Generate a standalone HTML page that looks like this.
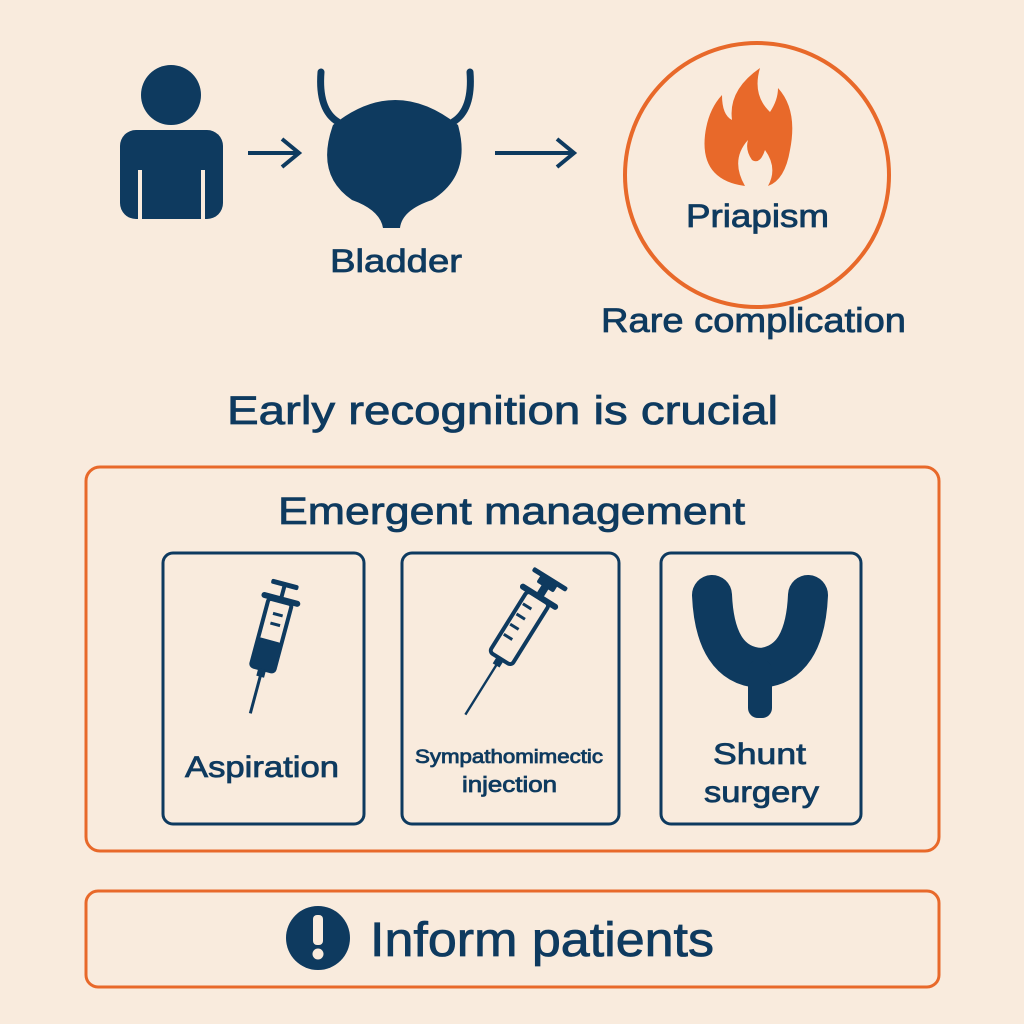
<!DOCTYPE html>
<html><head><meta charset="utf-8"><style>
html,body{margin:0;padding:0;background:#f9ebdd;}
svg{display:block}
text{font-family:"Liberation Sans",sans-serif;fill:#0e3a5f;stroke:#0e3a5f;stroke-width:0.8;}
</style></head><body>
<svg width="1024" height="1024" viewBox="0 0 1024 1024">
<rect width="1024" height="1024" fill="#f9ebdd"/>
<!-- person -->
<circle cx="171" cy="95" r="30" fill="#0e3a5f"/>
<rect x="120" y="130" width="103" height="89" rx="16" fill="#0e3a5f"/>
<rect x="138" y="170" width="4" height="50" fill="#f9ebdd"/>
<rect x="201" y="170" width="4" height="50" fill="#f9ebdd"/>
<!-- arrow1 -->
<g stroke="#0e3a5f" stroke-width="4" fill="none"><line x1="248" y1="153" x2="299" y2="153"/><polyline points="282,139 299,153 282,167"/></g>
<!-- bladder -->
<g stroke="#0e3a5f" stroke-width="7" fill="none" stroke-linecap="round">
<path d="M321 72 Q318 110 338 122"/><path d="M470 72 Q473 110 453 122"/></g>
<path d="M333 125 Q395 75 458 125 Q472 175 432 200 Q402 210 400 228 L383 228 Q380 210 352 200 Q315 175 333 125Z" fill="#0e3a5f"/>
<text x="330" y="272" font-size="32" textLength="132" lengthAdjust="spacingAndGlyphs">Bladder</text>
<!-- arrow2 -->
<g stroke="#0e3a5f" stroke-width="4" fill="none"><line x1="495" y1="153" x2="574" y2="153"/><polyline points="557,139 574,153 557,167"/></g>
<!-- circle -->
<circle cx="757" cy="175" r="132" fill="none" stroke="#e8692a" stroke-width="4"/>
<path d="M745 186 Q700 180 705 135 Q708 110 722 95 Q722 115 732 120 Q728 90 760 68 Q752 95 770 112 Q778 100 778 88 Q798 110 790 150 Q785 180 768 186 Q778 168 765 150 Q760 165 752 160 Q745 150 748 140 Q730 160 745 186Z" fill="#e8692a"/>
<text x="686" y="227" font-size="32" textLength="143" lengthAdjust="spacingAndGlyphs">Priapism</text>
<text x="601" y="332" font-size="34" textLength="305" lengthAdjust="spacingAndGlyphs">Rare complication</text>
<text x="227" y="424" font-size="40" textLength="551" lengthAdjust="spacingAndGlyphs">Early recognition is crucial</text>
<!-- management box -->
<rect x="86" y="467" width="853" height="384" rx="14" fill="none" stroke="#e8692a" stroke-width="3"/>
<text x="278" y="524" font-size="38" textLength="467" lengthAdjust="spacingAndGlyphs">Emergent management</text>
<g fill="none" stroke="#0e3a5f" stroke-width="3">
<rect x="163" y="553" width="201" height="271" rx="10"/>
<rect x="402" y="553" width="217" height="271" rx="10"/>
<rect x="661" y="553" width="200" height="271" rx="10"/>
</g>
<!-- syringe 1 -->
<g transform="translate(270,640) rotate(15)" fill="#0e3a5f">
<rect x="-2" y="-58" width="4" height="14"/><rect x="-14" y="-60" width="28" height="5" rx="2"/>
<rect x="-20" y="-45" width="40" height="6" rx="3"/>
<rect x="-12" y="-40" width="24" height="70" rx="3" fill="none" stroke="#0e3a5f" stroke-width="4"/>
<rect x="-12" y="0" width="24" height="30" rx="3"/>
<rect x="-4" y="30" width="8" height="8"/><rect x="-1.5" y="36" width="3" height="40"/>
<rect x="-4" y="-28" width="10" height="3"/><rect x="-4" y="-18" width="10" height="3"/>
</g>
<!-- syringe 2 -->
<g transform="translate(512,640) rotate(32)" fill="#0e3a5f">
<rect x="-10" y="-72" width="20" height="10" rx="2"/><rect x="-20" y="-74" width="40" height="5" rx="2"/>
<rect x="-4" y="-64" width="8" height="12"/>
<rect x="-22" y="-54" width="44" height="6" rx="3"/>
<rect x="-13" y="-50" width="26" height="72" rx="4" fill="none" stroke="#0e3a5f" stroke-width="4"/>
<rect x="-10" y="-38" width="10" height="3"/><rect x="-10" y="-26" width="10" height="3"/><rect x="-10" y="-14" width="10" height="3"/><rect x="-10" y="-2" width="10" height="3"/>
<rect x="-4" y="22" width="8" height="8"/><rect x="-1.2" y="28" width="2.4" height="60"/>
</g>
<text x="185" y="777" font-size="30" textLength="154" lengthAdjust="spacingAndGlyphs">Aspiration</text>
<text x="415" y="763" font-size="19" textLength="188" lengthAdjust="spacingAndGlyphs">Sympathomimectic</text>
<text x="462" y="792" font-size="22" textLength="95" lengthAdjust="spacingAndGlyphs">injection</text>
<!-- Y shape -->
<path d="M712 595 Q715 665 760 668 Q805 665 808 595" fill="none" stroke="#0e3a5f" stroke-width="40" stroke-linecap="round"/>
<rect x="748" y="660" width="24" height="58" rx="10" fill="#0e3a5f"/>
<text x="713" y="764" font-size="30" textLength="93" lengthAdjust="spacingAndGlyphs">Shunt</text>
<text x="704" y="802" font-size="30" textLength="115" lengthAdjust="spacingAndGlyphs">surgery</text>
<!-- inform -->
<rect x="86" y="891" width="853" height="96" rx="12" fill="none" stroke="#e8692a" stroke-width="3"/>
<circle cx="318" cy="938" r="32" fill="#0e3a5f"/>
<rect x="313" y="915" width="10" height="30" rx="4" fill="#f9ebdd"/>
<circle cx="318" cy="954" r="5.5" fill="#f9ebdd"/>
<text x="370" y="956" font-size="48" textLength="344" lengthAdjust="spacingAndGlyphs">Inform patients</text>
</svg>
</body></html>
